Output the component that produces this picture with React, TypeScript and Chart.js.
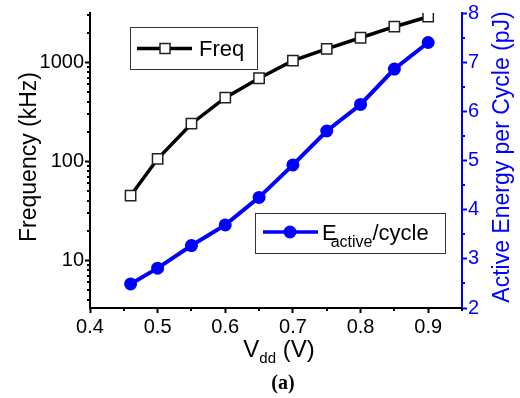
import { useEffect, useRef } from 'react';
import { Chart, registerables } from 'chart.js';

Chart.register(...registerables);

// ---- data ----
const vdd = [0.46, 0.5, 0.55, 0.6, 0.65, 0.7, 0.75, 0.8, 0.85, 0.9];
const freqKHz = [45, 106, 240, 440, 690, 1040, 1370, 1770, 2290, 2890];
const energyPJ = [2.49, 2.81, 3.27, 3.69, 4.25, 4.91, 5.6, 6.14, 6.86, 7.4];
const xTickValues = [0.4, 0.5, 0.6, 0.7, 0.8, 0.9];
const xMinorValues = [0.45, 0.55, 0.65, 0.75, 0.85, 0.95];
const freqTickValues = [10, 100, 1000];
const energyTickValues = [2, 3, 4, 5, 6, 7, 8];
const energyMinorValues = [2.5, 3.5, 4.5, 5.5, 6.5, 7.5];
const freqLabel = 'Freq';
const energyLabelMain = 'E';
const energyLabelSub = 'active';
const energyLabelRest = '/cycle';
const leftTitle = 'Frequency (kHz)';
const rightTitle = 'Active Energy per Cycle (pJ)';
const xTitleMain = 'V';
const xTitleSub = 'dd';
const xTitleRest = ' (V)';
const caption = '(a)';

const SANS = '"Liberation Sans", Arial, Helvetica, sans-serif';
const SERIF = '"Liberation Serif", "Times New Roman", serif';
const BLUE = '#0000ff';

export default function App() {
  const ref = useRef<HTMLCanvasElement>(null);

  useEffect(() => {
    const canvas = ref.current;
    if (!canvas) return;

    const decor = {
      id: 'decor',
      afterDraw(chart: any) {
        const ctx: CanvasRenderingContext2D = chart.ctx;
        const { left, right, bottom } = chart.chartArea;
        const xs = chart.scales.x;
        const yl = chart.scales.y;
        const yr = chart.scales.y1;
        ctx.save();

        const seg = (x1: number, y1: number, x2: number, y2: number) => {
          ctx.beginPath();
          ctx.moveTo(x1, y1);
          ctx.lineTo(x2, y2);
          ctx.stroke();
        };

        // minor ticks
        ctx.lineWidth = 2;
        ctx.strokeStyle = '#000';
        xMinorValues.forEach((v) => {
          const px = Math.round(xs.getPixelForValue(v));
          seg(px, bottom, px, bottom + 3);
        });
        const lmin = yl.min, lmax = yl.max;
        for (let d = 1; d <= 1000; d *= 10) {
          for (let m = 2; m <= 9; m++) {
            const v = m * d;
            if (v < lmin || v > lmax) continue;
            const py = Math.round(yl.getPixelForValue(v));
            seg(left - 3, py, left, py);
          }
        }
        ctx.strokeStyle = BLUE;
        energyMinorValues.forEach((v) => {
          const py = Math.round(yr.getPixelForValue(v));
          seg(right, py, right + 3, py);
        });

        // axis titles
        ctx.fillStyle = '#000';
        ctx.font = `23px ${SANS}`;
        ctx.textAlign = 'center';
        ctx.textBaseline = 'alphabetic';
        ctx.save();
        ctx.translate(36, 157);
        ctx.rotate(-Math.PI / 2);
        ctx.fillText(leftTitle, 0, 0);
        ctx.restore();

        ctx.fillStyle = BLUE;
        ctx.save();
        ctx.translate(509, 157);
        ctx.rotate(-Math.PI / 2);
        ctx.fillText(rightTitle, 0, 0);
        ctx.restore();

        // x title with subscript
        ctx.fillStyle = '#000';
        ctx.textAlign = 'left';
        const fMain = `24px ${SANS}`;
        const fSub = `15px ${SANS}`;
        ctx.font = fMain;
        const wV = ctx.measureText(xTitleMain).width;
        const wR = ctx.measureText(xTitleRest).width;
        ctx.font = fSub;
        const wS = ctx.measureText(xTitleSub).width;
        const total = wV + wS + wR;
        const x0 = 279 - total / 2;
        ctx.font = fMain;
        ctx.fillText(xTitleMain, x0, 357);
        ctx.font = fSub;
        ctx.fillText(xTitleSub, x0 + wV, 363);
        ctx.font = fMain;
        ctx.fillText(xTitleRest, x0 + wV + wS, 357);

        // caption
        ctx.font = `bold 20px ${SERIF}`;
        ctx.textAlign = 'center';
        ctx.textBaseline = 'middle';
        ctx.fillText(caption, 283, 384);

        // legend 1 (Freq)
        ctx.lineWidth = 1;
        ctx.strokeStyle = '#333';
        ctx.strokeRect(130.5, 27.5, 127, 42);
        ctx.strokeStyle = '#000';
        ctx.lineWidth = 3.5;
        seg(137, 48.5, 192, 48.5);
        ctx.fillStyle = '#fff';
        ctx.fillRect(160, 43.5, 10, 10);
        ctx.lineWidth = 1.5;
        ctx.strokeStyle = '#222';
        ctx.strokeRect(160, 43.5, 10, 10);
        ctx.fillStyle = '#000';
        ctx.font = `22px ${SANS}`;
        ctx.textAlign = 'left';
        ctx.textBaseline = 'alphabetic';
        ctx.fillText(freqLabel, 199, 56);

        // legend 2 (E_active/cycle)
        ctx.lineWidth = 1;
        ctx.strokeStyle = '#333';
        ctx.strokeRect(255.5, 213.5, 190, 40);
        ctx.strokeStyle = BLUE;
        ctx.lineWidth = 3.5;
        seg(263, 232, 318, 232);
        ctx.fillStyle = BLUE;
        ctx.beginPath();
        ctx.arc(290, 232, 6.5, 0, Math.PI * 2);
        ctx.fill();
        ctx.fillStyle = '#000';
        ctx.font = `22px ${SANS}`;
        ctx.fillText(energyLabelMain, 322, 240);
        const wE = ctx.measureText(energyLabelMain).width;
        ctx.font = `16px ${SANS}`;
        ctx.fillText(energyLabelSub, 322 + wE - 6, 247);
        const wA = ctx.measureText(energyLabelSub).width;
        ctx.font = `22px ${SANS}`;
        ctx.fillText(energyLabelRest, 322 + wE - 6 + wA, 240);

        ctx.restore();
      },
    };

    const chart = new Chart(canvas, {
      type: 'line',
      data: {
        datasets: [
          {
            label: freqLabel,
            data: vdd.map((v, i) => ({ x: v, y: freqKHz[i] })),
            yAxisID: 'y',
            borderColor: '#000',
            borderWidth: 3.5,
            pointStyle: 'rect',
            pointRadius: 7.3,
            pointBackgroundColor: '#fff',
            pointBorderColor: '#222',
            pointBorderWidth: 1.5,
            tension: 0,
          },
          {
            label: energyLabelMain + energyLabelSub + energyLabelRest,
            data: vdd.map((v, i) => ({ x: v, y: energyPJ[i] })),
            yAxisID: 'y1',
            borderColor: BLUE,
            borderWidth: 4,
            pointStyle: 'circle',
            pointRadius: 6.5,
            pointBackgroundColor: BLUE,
            pointBorderWidth: 0,
            tension: 0,
          },
        ],
      },
      options: {
        responsive: false,
        animation: false,
        events: [],
        layout: { padding: { top: 12, left: 0, right: 0, bottom: 0 } },
        plugins: { legend: { display: false }, tooltip: { enabled: false } },
        scales: {
          x: {
            type: 'linear',
            min: 0.4,
            max: 0.95,
            afterFit: (s: any) => { s.height = 90; },
            afterBuildTicks: (s: any) => { s.ticks = xTickValues.map((v) => ({ value: v })); },
            border: { display: true, color: '#000', width: 2 },
            grid: { display: true, drawOnChartArea: false, drawTicks: true, tickLength: 5, tickWidth: 2, tickColor: '#000' },
            ticks: {
              color: '#000',
              padding: 2,
              maxRotation: 0,
              autoSkip: false,
              font: { family: SANS, size: 20 },
              callback: (v: any) => Number(v).toFixed(1),
            },
          },
          y: {
            type: 'logarithmic',
            position: 'left',
            min: 3.3,
            max: 3150,
            afterFit: (s: any) => { s.width = 90; },
            afterBuildTicks: (s: any) => { s.ticks = freqTickValues.map((v) => ({ value: v })); },
            border: { display: true, color: '#000', width: 2 },
            grid: { display: true, drawOnChartArea: false, drawTicks: true, tickLength: 5, tickWidth: 2, tickColor: '#000' },
            ticks: {
              color: '#000',
              padding: 1,
              autoSkip: false,
              font: { family: SANS, size: 20 },
              callback: (v: any) => String(v),
            },
          },
          y1: {
            type: 'linear',
            position: 'right',
            min: 2,
            max: 8,
            afterFit: (s: any) => { s.width = 58; },
            afterBuildTicks: (s: any) => { s.ticks = energyTickValues.map((v) => ({ value: v })); },
            border: { display: true, color: BLUE, width: 2 },
            grid: { display: true, drawOnChartArea: false, drawTicks: true, tickLength: 5, tickWidth: 2, tickColor: BLUE },
            ticks: {
              color: BLUE,
              padding: 1,
              autoSkip: false,
              font: { family: SANS, size: 20 },
              callback: (v: any) => String(v),
            },
          },
        },
      },
      plugins: [decor],
    } as any);

    return () => chart.destroy();
  }, []);

  return (
    <div style={{ position: 'fixed', left: 0, top: 0, width: 520, height: 398, background: '#fff' }}>
      <canvas ref={ref} width={520} height={398} style={{ display: 'block', width: 520, height: 398 }} />
    </div>
  );
}
